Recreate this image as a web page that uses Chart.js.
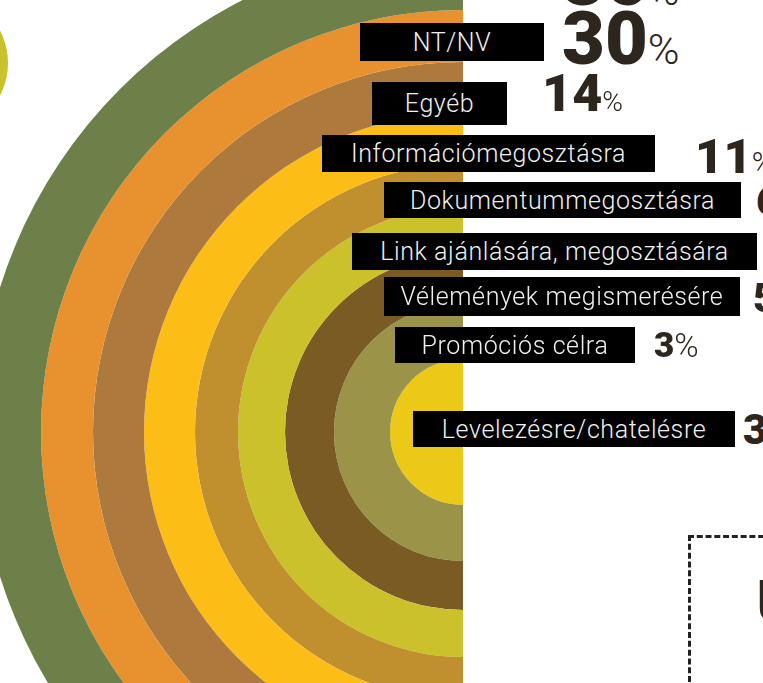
<!DOCTYPE html>
<html><head><meta charset="utf-8">
<script src="https://cdn.jsdelivr.net/npm/chart.js@4"></script>
<style>
html,body{margin:0;padding:0;width:763px;height:683px;overflow:hidden;background:#fff;position:relative}
#wrap{position:absolute;left:0;top:0;width:500px;height:864px}
.lbl{position:absolute;background:#000;color:#f0f0f0;font-family:Roboto,sans-serif;font-weight:300;font-size:25px;letter-spacing:0.6px;display:flex;align-items:center;justify-content:center;white-space:nowrap;box-sizing:border-box}
.val{position:absolute;color:#2d261e;font-family:Roboto,sans-serif;font-weight:900;white-space:nowrap;line-height:1}
.val span{font-weight:300}
#dot{position:absolute;left:-132px;top:-7px;width:140px;height:140px;border-radius:50%;background:#c9c22a}
#dash{position:absolute;left:688px;top:535px;width:120px;height:200px;border-top:3px dashed #222;border-left:3px dashed #222;box-sizing:border-box}
#cut{position:absolute;left:755px;top:572px;font-family:Roboto,sans-serif;font-weight:300;font-size:60px;color:#2d261e;line-height:1}
</style></head>
<body>
<div id="dot"></div>
<div id="wrap"><canvas id="c" width="500" height="864"></canvas></div>
<div id="dash"></div>
<div id="cut">U</div>
<script>
// ---- data ----
const categories = ['', 'NT/NV', 'Egyéb', 'Információmegosztásra', 'Dokumentummegosztásra',
  'Link ajánlására, megosztására', 'Vélemények megismerésére', 'Promóciós célra', 'Levelezésre/chatelésre'];
const percents = [36, 30, 14, 11, 6, 6, 5, 3, 3];
const ringColors = ['#6e804a', '#e8922f', '#ad793d', '#fcbd17', '#c0902f', '#cbc12b', '#7b5b24', '#9b9347', '#ecc916'];
const ringWeights = [63, 52, 51, 51, 43, 47, 49, 56, 73];

// ---- layout (positions only) ----
const boxes = [null, [360,23,184,38], [372,82,135,43], [322,135,333,37], [384,182,357,36],
  [352,233,405,37], [384,277,356,39], [395,327,240,36], [413,411,322,36]];
const valPos = [[562,-57,74,43], [562,2,74,43], [542,68,52,28], [695,132,49,30], [756,180,42,26],
  [780,225,42,26], [753,278,41,26], [654,328,35,33], [743,409,42,26]];

new Chart(document.getElementById('c'), {
  type: 'doughnut',
  data: {
    labels: ['%'],
    datasets: categories.map((c, i) => ({
      label: c, data: [percents[i]], backgroundColor: ringColors[i],
      weight: ringWeights[i], borderWidth: 0, hoverOffset: 0
    }))
  },
  options: {
    responsive: false, animation: false, events: [],
    rotation: 180, circumference: 180, cutout: 0, radius: 485,
    layout: {padding: {left: 0, top: 0, bottom: 0, right: 59}},
    plugins: {legend: {display: false}, tooltip: {enabled: false}}
  }
});

categories.forEach((c, i) => {
  const b = boxes[i];
  if (b && c) {
    const d = document.createElement('div');
    d.className = 'lbl';
    d.style.left = b[0] + 'px'; d.style.top = b[1] + 'px';
    d.style.width = b[2] + 'px'; d.style.height = b[3] + 'px';
    d.textContent = c;
    document.body.appendChild(d);
  }
  const p = valPos[i];
  const v = document.createElement('div');
  v.className = 'val';
  v.style.left = p[0] + 'px'; v.style.top = p[1] + 'px';
  v.style.fontSize = p[2] + 'px';
  v.innerHTML = percents[i] + '<span style="font-size:' + p[3] + 'px">%</span>';
  document.body.appendChild(v);
});
</script>
</body></html>
